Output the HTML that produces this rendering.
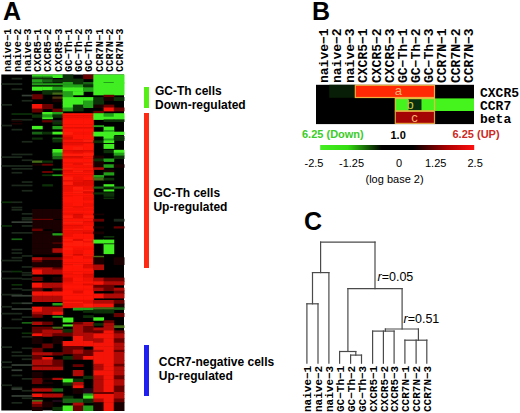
<!DOCTYPE html>
<html><head><meta charset="utf-8">
<style>
html,body{margin:0;padding:0;background:#fff;}
body{width:520px;height:413px;position:relative;overflow:hidden;font-family:"Liberation Sans",sans-serif;color:#000;}
.abs{position:absolute;white-space:nowrap;}
.vl{position:absolute;white-space:nowrap;transform:rotate(-90deg);transform-origin:0 0;line-height:1;font-family:"Liberation Mono",monospace;font-weight:bold;}
.big{position:absolute;font-weight:bold;font-size:25px;line-height:1;}
.lab{position:absolute;font-weight:bold;font-size:12px;line-height:14px;white-space:nowrap;}
.bar{position:absolute;width:5px;}
.rl{position:absolute;font-family:"Liberation Mono",monospace;font-weight:bold;font-size:13px;line-height:1;}
.tick{position:absolute;font-size:11px;line-height:1;white-space:nowrap;}
</style></head><body>
<div class="big" style="left:3px;top:-1px">A</div>
<div class="big" style="left:312px;top:-1px">B</div>
<div class="big" style="left:304px;top:208.5px">C</div>

<div class="vl la" style="left:2.50px;top:71.60px;font-size:10.35px">naive&#8722;1</div>
<div class="vl la" style="left:12.72px;top:71.60px;font-size:10.35px">naive&#8722;2</div>
<div class="vl la" style="left:22.95px;top:71.60px;font-size:10.35px">naive&#8722;3</div>
<div class="vl la" style="left:33.17px;top:71.60px;font-size:10.35px">CXCR5&#8722;1</div>
<div class="vl la" style="left:43.40px;top:71.60px;font-size:10.35px">CXCR5&#8722;2</div>
<div class="vl la" style="left:53.62px;top:71.60px;font-size:10.35px">CXCR5&#8722;3</div>
<div class="vl la" style="left:63.85px;top:71.60px;font-size:10.35px">GC&#8722;Th&#8722;1</div>
<div class="vl la" style="left:74.08px;top:71.60px;font-size:10.35px">GC&#8722;Th&#8722;2</div>
<div class="vl la" style="left:84.30px;top:71.60px;font-size:10.35px">GC&#8722;Th&#8722;3</div>
<div class="vl la" style="left:94.52px;top:71.60px;font-size:10.35px">CCR7N&#8722;1</div>
<div class="vl la" style="left:104.75px;top:71.60px;font-size:10.35px">CCR7N&#8722;2</div>
<div class="vl la" style="left:114.97px;top:71.60px;font-size:10.35px">CCR7N&#8722;3</div>
<svg style="position:absolute;left:0;top:0;filter:blur(0.35px)" width="130" height="413" viewBox="0 0 130 413">
<rect x="1.3" y="74.5" width="122.7" height="336" fill="#000"/>
<rect x="31.97" y="74.50" width="10.72" height="1.70" fill="#40ee22"/>
<rect x="42.20" y="74.50" width="10.72" height="1.70" fill="#40ee22"/>
<rect x="52.42" y="74.50" width="10.72" height="1.70" fill="#40ee22"/>
<rect x="31.97" y="75.70" width="10.72" height="2.30" fill="#23a01a"/>
<rect x="42.20" y="75.70" width="10.72" height="2.30" fill="#23a01a"/>
<rect x="52.42" y="75.70" width="10.72" height="2.30" fill="#40ee22"/>
<rect x="31.97" y="77.50" width="10.72" height="2.20" fill="#0c3008"/>
<rect x="42.20" y="77.50" width="10.72" height="2.20" fill="#0c3008"/>
<rect x="31.97" y="79.20" width="10.72" height="3.30" fill="#23a01a"/>
<rect x="42.20" y="79.20" width="10.72" height="3.30" fill="#176414"/>
<rect x="52.42" y="79.20" width="10.72" height="3.30" fill="#0c3008"/>
<rect x="31.97" y="82.00" width="10.72" height="1.70" fill="#176414"/>
<rect x="31.97" y="83.20" width="10.72" height="2.30" fill="#23a01a"/>
<rect x="42.20" y="83.20" width="10.72" height="2.30" fill="#23a01a"/>
<rect x="52.42" y="83.20" width="10.72" height="2.30" fill="#23a01a"/>
<rect x="31.97" y="85.00" width="10.72" height="2.20" fill="#0c3008"/>
<rect x="42.20" y="85.00" width="10.72" height="2.20" fill="#0c3008"/>
<rect x="52.42" y="85.00" width="10.72" height="2.20" fill="#0c3008"/>
<rect x="31.97" y="86.70" width="10.72" height="4.00" fill="#40ee22"/>
<rect x="42.20" y="86.70" width="10.72" height="4.00" fill="#40ee22"/>
<rect x="52.42" y="86.70" width="10.72" height="4.00" fill="#23a01a"/>
<rect x="42.20" y="90.20" width="10.72" height="2.80" fill="#0c3008"/>
<rect x="52.42" y="90.20" width="10.72" height="2.80" fill="#0c3008"/>
<rect x="42.20" y="92.50" width="10.72" height="2.20" fill="#0c3008"/>
<rect x="52.42" y="92.50" width="10.72" height="2.20" fill="#456a18"/>
<rect x="31.97" y="94.20" width="10.72" height="2.80" fill="#680000"/>
<rect x="31.97" y="96.50" width="10.72" height="2.80" fill="#680000"/>
<rect x="52.42" y="96.50" width="10.72" height="2.80" fill="#4a3210"/>
<rect x="52.42" y="98.80" width="10.72" height="3.40" fill="#1a0000"/>
<rect x="31.97" y="104.00" width="10.72" height="5.10" fill="#f41408"/>
<rect x="42.20" y="104.00" width="10.72" height="5.10" fill="#680000"/>
<rect x="31.97" y="108.60" width="10.72" height="3.90" fill="#680000"/>
<rect x="52.42" y="108.60" width="10.72" height="3.90" fill="#680000"/>
<rect x="42.20" y="112.00" width="10.72" height="2.90" fill="#40ee22"/>
<rect x="52.42" y="112.00" width="10.72" height="2.90" fill="#23a01a"/>
<rect x="31.97" y="114.40" width="10.72" height="3.40" fill="#0c3008"/>
<rect x="42.20" y="114.40" width="10.72" height="3.40" fill="#23a01a"/>
<rect x="52.42" y="114.40" width="10.72" height="3.40" fill="#0c3008"/>
<rect x="42.20" y="117.30" width="10.72" height="2.20" fill="#40ee22"/>
<rect x="42.20" y="119.00" width="10.72" height="1.70" fill="#0c3008"/>
<rect x="42.20" y="120.20" width="10.72" height="2.20" fill="#680000"/>
<rect x="52.42" y="120.20" width="10.72" height="2.20" fill="#1c281c"/>
<rect x="52.42" y="121.90" width="10.72" height="2.80" fill="#0c3008"/>
<rect x="31.97" y="125.90" width="10.72" height="3.40" fill="#40ee22"/>
<rect x="52.42" y="125.90" width="10.72" height="3.40" fill="#23a01a"/>
<rect x="31.97" y="131.70" width="10.72" height="2.80" fill="#176414"/>
<rect x="42.20" y="131.70" width="10.72" height="2.80" fill="#0c3008"/>
<rect x="52.42" y="131.70" width="10.72" height="2.80" fill="#40ee22"/>
<rect x="31.97" y="137.50" width="10.72" height="2.20" fill="#0c3008"/>
<rect x="52.42" y="137.50" width="10.72" height="2.20" fill="#176414"/>
<rect x="52.42" y="139.20" width="10.72" height="3.30" fill="#0c3008"/>
<rect x="52.42" y="149.00" width="10.72" height="4.00" fill="#40ee22"/>
<rect x="52.42" y="152.50" width="10.72" height="1.60" fill="#23a01a"/>
<rect x="52.42" y="153.60" width="10.72" height="2.90" fill="#23a01a"/>
<rect x="52.42" y="156.00" width="10.72" height="3.30" fill="#176414"/>
<rect x="31.97" y="160.50" width="10.72" height="2.30" fill="#456a18"/>
<rect x="42.20" y="160.50" width="10.72" height="2.30" fill="#0c3008"/>
<rect x="31.97" y="163.70" width="10.72" height="2.00" fill="#1a0000"/>
<rect x="42.20" y="163.70" width="10.72" height="2.00" fill="#680000"/>
<rect x="52.42" y="168.60" width="10.72" height="1.70" fill="#176414"/>
<rect x="42.20" y="171.00" width="10.72" height="2.00" fill="#680000"/>
<rect x="42.20" y="174.40" width="10.72" height="1.70" fill="#0c3008"/>
<rect x="52.42" y="174.40" width="10.72" height="1.70" fill="#23a01a"/>
<rect x="42.20" y="184.20" width="10.72" height="2.30" fill="#0c3008"/>
<rect x="31.97" y="209.00" width="10.72" height="10.30" fill="#1a0000"/>
<rect x="42.20" y="209.00" width="10.72" height="10.30" fill="#1a0000"/>
<rect x="52.42" y="209.00" width="10.72" height="10.30" fill="#1a0000"/>
<rect x="31.97" y="218.80" width="10.72" height="1.70" fill="#680000"/>
<rect x="42.20" y="218.80" width="10.72" height="1.70" fill="#680000"/>
<rect x="31.97" y="220.00" width="10.72" height="9.10" fill="#1a0000"/>
<rect x="42.20" y="220.00" width="10.72" height="9.10" fill="#1a0000"/>
<rect x="52.42" y="220.00" width="10.72" height="9.10" fill="#1a0000"/>
<rect x="31.97" y="228.60" width="10.72" height="2.90" fill="#680000"/>
<rect x="52.42" y="228.60" width="10.72" height="2.90" fill="#1a0000"/>
<rect x="31.97" y="231.00" width="10.72" height="2.70" fill="#1a0000"/>
<rect x="42.20" y="231.00" width="10.72" height="2.70" fill="#1a0000"/>
<rect x="31.97" y="233.20" width="10.72" height="2.80" fill="#1a0000"/>
<rect x="42.20" y="233.20" width="10.72" height="2.80" fill="#1a0000"/>
<rect x="52.42" y="233.20" width="10.72" height="2.80" fill="#23a01a"/>
<rect x="31.97" y="235.50" width="10.72" height="7.50" fill="#1a0000"/>
<rect x="42.20" y="235.50" width="10.72" height="7.50" fill="#1a0000"/>
<rect x="52.42" y="235.50" width="10.72" height="7.50" fill="#1a0000"/>
<rect x="31.97" y="242.50" width="10.72" height="1.60" fill="#1a0000"/>
<rect x="42.20" y="242.50" width="10.72" height="1.60" fill="#1a0000"/>
<rect x="52.42" y="242.50" width="10.72" height="1.60" fill="#680000"/>
<rect x="31.97" y="243.60" width="10.72" height="5.10" fill="#1a0000"/>
<rect x="42.20" y="243.60" width="10.72" height="5.10" fill="#1a0000"/>
<rect x="52.42" y="243.60" width="10.72" height="5.10" fill="#1a0000"/>
<rect x="31.97" y="248.20" width="10.72" height="5.10" fill="#1a0000"/>
<rect x="42.20" y="248.20" width="10.72" height="5.10" fill="#1a0000"/>
<rect x="52.42" y="248.20" width="10.72" height="5.10" fill="#b00a06"/>
<rect x="31.97" y="252.80" width="10.72" height="1.70" fill="#1a0000"/>
<rect x="42.20" y="252.80" width="10.72" height="1.70" fill="#1a0000"/>
<rect x="52.42" y="252.80" width="10.72" height="1.70" fill="#1a0000"/>
<rect x="31.97" y="257.20" width="10.72" height="3.30" fill="#b00a06"/>
<rect x="42.20" y="257.20" width="10.72" height="3.30" fill="#680000"/>
<rect x="52.42" y="257.20" width="10.72" height="3.30" fill="#680000"/>
<rect x="31.97" y="260.00" width="10.72" height="2.80" fill="#680000"/>
<rect x="42.20" y="260.00" width="10.72" height="2.80" fill="#1a0000"/>
<rect x="52.42" y="260.00" width="10.72" height="2.80" fill="#1a0000"/>
<rect x="31.97" y="262.30" width="10.72" height="5.60" fill="#1a0000"/>
<rect x="42.20" y="262.30" width="10.72" height="5.60" fill="#1a0000"/>
<rect x="52.42" y="262.30" width="10.72" height="5.60" fill="#1a0000"/>
<rect x="31.97" y="267.40" width="10.72" height="2.60" fill="#b00a06"/>
<rect x="42.20" y="267.40" width="10.72" height="2.60" fill="#b00a06"/>
<rect x="52.42" y="267.40" width="10.72" height="2.60" fill="#680000"/>
<rect x="31.97" y="269.50" width="10.72" height="5.00" fill="#f41408"/>
<rect x="42.20" y="269.50" width="10.72" height="5.00" fill="#b00a06"/>
<rect x="52.42" y="269.50" width="10.72" height="5.00" fill="#b00a06"/>
<rect x="31.97" y="276.80" width="10.72" height="4.20" fill="#680000"/>
<rect x="52.42" y="276.80" width="10.72" height="4.20" fill="#1a0000"/>
<rect x="31.97" y="282.60" width="10.72" height="5.60" fill="#f41408"/>
<rect x="42.20" y="282.60" width="10.72" height="5.60" fill="#b00a06"/>
<rect x="52.42" y="282.60" width="10.72" height="5.60" fill="#b00a06"/>
<rect x="31.97" y="287.70" width="10.72" height="4.20" fill="#680000"/>
<rect x="52.42" y="287.70" width="10.72" height="4.20" fill="#680000"/>
<rect x="31.97" y="291.40" width="10.72" height="4.80" fill="#f41408"/>
<rect x="42.20" y="291.40" width="10.72" height="4.80" fill="#f41408"/>
<rect x="52.42" y="291.40" width="10.72" height="4.80" fill="#f41408"/>
<rect x="31.97" y="295.70" width="10.72" height="6.30" fill="#b00a06"/>
<rect x="42.20" y="295.70" width="10.72" height="6.30" fill="#b00a06"/>
<rect x="52.42" y="295.70" width="10.72" height="6.30" fill="#b00a06"/>
<rect x="52.42" y="303.00" width="10.72" height="2.50" fill="#23a01a"/>
<rect x="31.97" y="306.60" width="10.72" height="5.60" fill="#f41408"/>
<rect x="42.20" y="306.60" width="10.72" height="5.60" fill="#b00a06"/>
<rect x="52.42" y="306.60" width="10.72" height="5.60" fill="#b00a06"/>
<rect x="31.97" y="311.70" width="10.72" height="3.20" fill="#b00a06"/>
<rect x="42.20" y="311.70" width="10.72" height="3.20" fill="#b00a06"/>
<rect x="52.42" y="311.70" width="10.72" height="3.20" fill="#f41408"/>
<rect x="31.97" y="314.40" width="10.72" height="1.90" fill="#680000"/>
<rect x="31.97" y="315.80" width="10.72" height="2.00" fill="#680000"/>
<rect x="52.42" y="315.80" width="10.72" height="2.00" fill="#23a01a"/>
<rect x="31.97" y="321.60" width="10.72" height="3.40" fill="#b00a06"/>
<rect x="42.20" y="321.60" width="10.72" height="3.40" fill="#680000"/>
<rect x="31.97" y="326.70" width="10.72" height="2.00" fill="#680000"/>
<rect x="42.20" y="326.70" width="10.72" height="2.00" fill="#680000"/>
<rect x="52.42" y="326.70" width="10.72" height="2.00" fill="#456a18"/>
<rect x="31.97" y="328.20" width="10.72" height="1.90" fill="#680000"/>
<rect x="42.20" y="328.20" width="10.72" height="1.90" fill="#680000"/>
<rect x="31.97" y="329.60" width="10.72" height="4.20" fill="#680000"/>
<rect x="42.20" y="329.60" width="10.72" height="4.20" fill="#b00a06"/>
<rect x="52.42" y="329.60" width="10.72" height="4.20" fill="#b00a06"/>
<rect x="31.97" y="333.30" width="10.72" height="3.40" fill="#f41408"/>
<rect x="42.20" y="333.30" width="10.72" height="3.40" fill="#b00a06"/>
<rect x="52.42" y="333.30" width="10.72" height="3.40" fill="#680000"/>
<rect x="31.97" y="336.20" width="10.72" height="7.80" fill="#1a0000"/>
<rect x="52.42" y="336.20" width="10.72" height="7.80" fill="#1a0000"/>
<rect x="42.20" y="343.50" width="10.72" height="4.80" fill="#680000"/>
<rect x="31.97" y="347.80" width="10.72" height="4.90" fill="#680000"/>
<rect x="31.97" y="352.20" width="10.72" height="3.30" fill="#b00a06"/>
<rect x="42.20" y="352.20" width="10.72" height="3.30" fill="#b00a06"/>
<rect x="52.42" y="352.20" width="10.72" height="3.30" fill="#680000"/>
<rect x="31.97" y="355.00" width="10.72" height="2.50" fill="#680000"/>
<rect x="31.97" y="357.00" width="10.72" height="3.00" fill="#680000"/>
<rect x="42.20" y="357.00" width="10.72" height="3.00" fill="#f41408"/>
<rect x="31.97" y="359.50" width="10.72" height="4.80" fill="#b00a06"/>
<rect x="42.20" y="359.50" width="10.72" height="4.80" fill="#b00a06"/>
<rect x="52.42" y="359.50" width="10.72" height="4.80" fill="#680000"/>
<rect x="31.97" y="363.80" width="10.72" height="1.70" fill="#b00a06"/>
<rect x="42.20" y="363.80" width="10.72" height="1.70" fill="#b00a06"/>
<rect x="52.42" y="363.80" width="10.72" height="1.70" fill="#680000"/>
<rect x="31.97" y="365.00" width="10.72" height="2.20" fill="#680000"/>
<rect x="42.20" y="365.00" width="10.72" height="2.20" fill="#680000"/>
<rect x="52.42" y="365.00" width="10.72" height="2.20" fill="#680000"/>
<rect x="31.97" y="366.70" width="10.72" height="3.50" fill="#b00a06"/>
<rect x="42.20" y="366.70" width="10.72" height="3.50" fill="#b00a06"/>
<rect x="52.42" y="366.70" width="10.72" height="3.50" fill="#b00a06"/>
<rect x="31.97" y="372.00" width="10.72" height="5.10" fill="#1a0000"/>
<rect x="31.97" y="377.80" width="10.72" height="2.20" fill="#680000"/>
<rect x="42.20" y="377.80" width="10.72" height="2.20" fill="#1a0000"/>
<rect x="52.42" y="377.80" width="10.72" height="2.20" fill="#b00a06"/>
<rect x="31.97" y="379.50" width="10.72" height="2.90" fill="#680000"/>
<rect x="31.97" y="381.90" width="10.72" height="2.20" fill="#680000"/>
<rect x="42.20" y="381.90" width="10.72" height="2.20" fill="#1a0000"/>
<rect x="31.97" y="386.50" width="10.72" height="2.30" fill="#1a0000"/>
<rect x="42.20" y="386.50" width="10.72" height="2.30" fill="#1a0000"/>
<rect x="31.97" y="388.30" width="10.72" height="3.40" fill="#b00a06"/>
<rect x="42.20" y="388.30" width="10.72" height="3.40" fill="#b00a06"/>
<rect x="52.42" y="388.30" width="10.72" height="3.40" fill="#176414"/>
<rect x="31.97" y="393.50" width="10.72" height="4.00" fill="#f41408"/>
<rect x="42.20" y="393.50" width="10.72" height="4.00" fill="#b00a06"/>
<rect x="52.42" y="393.50" width="10.72" height="4.00" fill="#b00a06"/>
<rect x="31.97" y="397.00" width="10.72" height="3.40" fill="#1a0000"/>
<rect x="31.97" y="399.90" width="10.72" height="2.20" fill="#456a18"/>
<rect x="52.42" y="399.90" width="10.72" height="2.20" fill="#1e0818"/>
<rect x="31.97" y="401.60" width="10.72" height="2.90" fill="#b00a06"/>
<rect x="42.20" y="401.60" width="10.72" height="2.90" fill="#1a0000"/>
<rect x="31.97" y="404.00" width="10.72" height="3.40" fill="#680000"/>
<rect x="42.20" y="404.00" width="10.72" height="3.40" fill="#1a0000"/>
<rect x="31.97" y="406.90" width="10.72" height="4.10" fill="#1a0000"/>
<rect x="52.42" y="406.90" width="10.72" height="4.10" fill="#0c3008"/>
<rect x="62.65" y="74.50" width="10.72" height="4.60" fill="#0c3008"/>
<rect x="83.10" y="74.50" width="10.72" height="4.60" fill="#680000"/>
<rect x="62.65" y="78.60" width="10.72" height="3.90" fill="#0c3008"/>
<rect x="72.88" y="78.60" width="10.72" height="3.90" fill="#0c3008"/>
<rect x="62.65" y="82.00" width="10.72" height="2.90" fill="#23a01a"/>
<rect x="72.88" y="82.00" width="10.72" height="2.90" fill="#0c3008"/>
<rect x="83.10" y="82.00" width="10.72" height="2.90" fill="#176414"/>
<rect x="62.65" y="84.40" width="10.72" height="3.40" fill="#23a01a"/>
<rect x="72.88" y="84.40" width="10.72" height="3.40" fill="#23a01a"/>
<rect x="83.10" y="84.40" width="10.72" height="3.40" fill="#0c3008"/>
<rect x="62.65" y="87.30" width="10.72" height="4.50" fill="#40ee22"/>
<rect x="72.88" y="87.30" width="10.72" height="4.50" fill="#40ee22"/>
<rect x="83.10" y="87.30" width="10.72" height="4.50" fill="#23a01a"/>
<rect x="62.65" y="91.30" width="10.72" height="4.00" fill="#23a01a"/>
<rect x="72.88" y="91.30" width="10.72" height="4.00" fill="#40ee22"/>
<rect x="62.65" y="94.80" width="10.72" height="2.80" fill="#23a01a"/>
<rect x="62.65" y="97.10" width="10.72" height="3.90" fill="#40ee22"/>
<rect x="72.88" y="97.10" width="10.72" height="3.90" fill="#40ee22"/>
<rect x="83.10" y="97.10" width="10.72" height="3.90" fill="#40ee22"/>
<rect x="62.65" y="100.50" width="10.72" height="4.60" fill="#40ee22"/>
<rect x="72.88" y="100.50" width="10.72" height="4.60" fill="#40ee22"/>
<rect x="83.10" y="100.50" width="10.72" height="4.60" fill="#23a01a"/>
<rect x="62.65" y="104.60" width="10.72" height="3.40" fill="#40ee22"/>
<rect x="72.88" y="104.60" width="10.72" height="3.40" fill="#0c3008"/>
<rect x="83.10" y="104.60" width="10.72" height="3.40" fill="#23a01a"/>
<rect x="62.65" y="107.50" width="10.72" height="3.90" fill="#23a01a"/>
<rect x="72.88" y="107.50" width="10.72" height="3.90" fill="#0c3008"/>
<rect x="62.65" y="113.20" width="10.72" height="2.50" fill="#ff1406"/>
<rect x="72.88" y="113.20" width="10.72" height="2.50" fill="#ff1406"/>
<rect x="83.10" y="113.20" width="10.72" height="2.50" fill="#ff1406"/>
<rect x="62.65" y="115.20" width="10.72" height="2.50" fill="#f01004"/>
<rect x="72.88" y="115.20" width="10.72" height="2.50" fill="#f01004"/>
<rect x="83.10" y="115.20" width="10.72" height="2.50" fill="#f01004"/>
<rect x="62.65" y="117.20" width="10.72" height="2.90" fill="#f81205"/>
<rect x="72.88" y="117.20" width="10.72" height="2.90" fill="#f81205"/>
<rect x="83.10" y="117.20" width="10.72" height="2.90" fill="#f81205"/>
<rect x="62.65" y="119.60" width="10.72" height="3.50" fill="#ff1406"/>
<rect x="72.88" y="119.60" width="10.72" height="3.50" fill="#ff1406"/>
<rect x="83.10" y="119.60" width="10.72" height="3.50" fill="#ff1406"/>
<rect x="62.65" y="122.60" width="10.72" height="2.10" fill="#ff1406"/>
<rect x="72.88" y="122.60" width="10.72" height="2.10" fill="#ff1406"/>
<rect x="83.10" y="122.60" width="10.72" height="2.10" fill="#ff1406"/>
<rect x="62.65" y="124.20" width="10.72" height="3.50" fill="#ff1406"/>
<rect x="72.88" y="124.20" width="10.72" height="3.50" fill="#ff1406"/>
<rect x="83.10" y="124.20" width="10.72" height="3.50" fill="#ff1406"/>
<rect x="62.65" y="127.20" width="10.72" height="1.70" fill="#f01004"/>
<rect x="72.88" y="127.20" width="10.72" height="1.70" fill="#f01004"/>
<rect x="83.10" y="127.20" width="10.72" height="1.70" fill="#f01004"/>
<rect x="62.65" y="128.40" width="10.72" height="4.00" fill="#ff1406"/>
<rect x="72.88" y="128.40" width="10.72" height="4.00" fill="#ff1406"/>
<rect x="83.10" y="128.40" width="10.72" height="4.00" fill="#ff1406"/>
<rect x="62.65" y="131.90" width="10.72" height="3.50" fill="#ff1c0a"/>
<rect x="72.88" y="131.90" width="10.72" height="3.50" fill="#f81205"/>
<rect x="83.10" y="131.90" width="10.72" height="3.50" fill="#f81205"/>
<rect x="62.65" y="134.90" width="10.72" height="2.50" fill="#f01004"/>
<rect x="72.88" y="134.90" width="10.72" height="2.50" fill="#ff1406"/>
<rect x="83.10" y="134.90" width="10.72" height="2.50" fill="#ff1406"/>
<rect x="62.65" y="136.90" width="10.72" height="2.90" fill="#e00c02"/>
<rect x="72.88" y="136.90" width="10.72" height="2.90" fill="#ff1406"/>
<rect x="83.10" y="136.90" width="10.72" height="2.90" fill="#ff1406"/>
<rect x="62.65" y="139.30" width="10.72" height="3.50" fill="#f81205"/>
<rect x="72.88" y="139.30" width="10.72" height="3.50" fill="#f81205"/>
<rect x="83.10" y="139.30" width="10.72" height="3.50" fill="#ff1c0a"/>
<rect x="62.65" y="142.30" width="10.72" height="1.70" fill="#e80e04"/>
<rect x="72.88" y="142.30" width="10.72" height="1.70" fill="#e80e04"/>
<rect x="83.10" y="142.30" width="10.72" height="1.70" fill="#e00c02"/>
<rect x="62.65" y="143.50" width="10.72" height="2.50" fill="#e80e04"/>
<rect x="72.88" y="143.50" width="10.72" height="2.50" fill="#e80e04"/>
<rect x="83.10" y="143.50" width="10.72" height="2.50" fill="#ff1406"/>
<rect x="62.65" y="145.50" width="10.72" height="1.70" fill="#ff1406"/>
<rect x="72.88" y="145.50" width="10.72" height="1.70" fill="#ff1406"/>
<rect x="83.10" y="145.50" width="10.72" height="1.70" fill="#ff1406"/>
<rect x="62.65" y="146.70" width="10.72" height="4.00" fill="#ff1406"/>
<rect x="72.88" y="146.70" width="10.72" height="4.00" fill="#ff1c0a"/>
<rect x="83.10" y="146.70" width="10.72" height="4.00" fill="#ff1406"/>
<rect x="62.65" y="150.20" width="10.72" height="2.90" fill="#e80e04"/>
<rect x="72.88" y="150.20" width="10.72" height="2.90" fill="#e00c02"/>
<rect x="83.10" y="150.20" width="10.72" height="2.90" fill="#e80e04"/>
<rect x="62.65" y="152.60" width="10.72" height="1.70" fill="#f81205"/>
<rect x="72.88" y="152.60" width="10.72" height="1.70" fill="#f01004"/>
<rect x="83.10" y="152.60" width="10.72" height="1.70" fill="#ff1c0a"/>
<rect x="62.65" y="153.80" width="10.72" height="2.90" fill="#ff1c0a"/>
<rect x="72.88" y="153.80" width="10.72" height="2.90" fill="#ff1c0a"/>
<rect x="83.10" y="153.80" width="10.72" height="2.90" fill="#ff1c0a"/>
<rect x="62.65" y="156.20" width="10.72" height="2.50" fill="#e00c02"/>
<rect x="72.88" y="156.20" width="10.72" height="2.50" fill="#e00c02"/>
<rect x="83.10" y="156.20" width="10.72" height="2.50" fill="#ff1406"/>
<rect x="62.65" y="158.20" width="10.72" height="2.90" fill="#ff1406"/>
<rect x="72.88" y="158.20" width="10.72" height="2.90" fill="#ff1406"/>
<rect x="83.10" y="158.20" width="10.72" height="2.90" fill="#ff1406"/>
<rect x="62.65" y="160.60" width="10.72" height="2.10" fill="#ff1406"/>
<rect x="72.88" y="160.60" width="10.72" height="2.10" fill="#ff1406"/>
<rect x="83.10" y="160.60" width="10.72" height="2.10" fill="#ff1406"/>
<rect x="62.65" y="162.20" width="10.72" height="1.70" fill="#ff1406"/>
<rect x="72.88" y="162.20" width="10.72" height="1.70" fill="#ff1406"/>
<rect x="83.10" y="162.20" width="10.72" height="1.70" fill="#ff1406"/>
<rect x="62.65" y="163.40" width="10.72" height="2.10" fill="#ff1406"/>
<rect x="72.88" y="163.40" width="10.72" height="2.10" fill="#e80e04"/>
<rect x="83.10" y="163.40" width="10.72" height="2.10" fill="#ff1c0a"/>
<rect x="62.65" y="165.00" width="10.72" height="2.90" fill="#f81205"/>
<rect x="72.88" y="165.00" width="10.72" height="2.90" fill="#f81205"/>
<rect x="83.10" y="165.00" width="10.72" height="2.90" fill="#f81205"/>
<rect x="62.65" y="167.40" width="10.72" height="2.10" fill="#ff1c0a"/>
<rect x="72.88" y="167.40" width="10.72" height="2.10" fill="#ff1406"/>
<rect x="83.10" y="167.40" width="10.72" height="2.10" fill="#ff1406"/>
<rect x="62.65" y="169.00" width="10.72" height="1.70" fill="#ff1406"/>
<rect x="72.88" y="169.00" width="10.72" height="1.70" fill="#ff1406"/>
<rect x="83.10" y="169.00" width="10.72" height="1.70" fill="#ff1406"/>
<rect x="62.65" y="170.20" width="10.72" height="2.50" fill="#f01004"/>
<rect x="72.88" y="170.20" width="10.72" height="2.50" fill="#ff1c0a"/>
<rect x="83.10" y="170.20" width="10.72" height="2.50" fill="#f01004"/>
<rect x="62.65" y="172.20" width="10.72" height="2.50" fill="#ff1406"/>
<rect x="72.88" y="172.20" width="10.72" height="2.50" fill="#ff1406"/>
<rect x="83.10" y="172.20" width="10.72" height="2.50" fill="#ff1406"/>
<rect x="62.65" y="174.20" width="10.72" height="2.90" fill="#f81205"/>
<rect x="72.88" y="174.20" width="10.72" height="2.90" fill="#f81205"/>
<rect x="83.10" y="174.20" width="10.72" height="2.90" fill="#f81205"/>
<rect x="62.65" y="176.60" width="10.72" height="4.00" fill="#ff1c0a"/>
<rect x="72.88" y="176.60" width="10.72" height="4.00" fill="#f01004"/>
<rect x="83.10" y="176.60" width="10.72" height="4.00" fill="#ff1406"/>
<rect x="62.65" y="180.10" width="10.72" height="2.10" fill="#f01004"/>
<rect x="72.88" y="180.10" width="10.72" height="2.10" fill="#f01004"/>
<rect x="83.10" y="180.10" width="10.72" height="2.10" fill="#e00c02"/>
<rect x="62.65" y="181.70" width="10.72" height="4.00" fill="#ff1c0a"/>
<rect x="72.88" y="181.70" width="10.72" height="4.00" fill="#e00c02"/>
<rect x="83.10" y="181.70" width="10.72" height="4.00" fill="#e00c02"/>
<rect x="62.65" y="185.20" width="10.72" height="2.10" fill="#f01004"/>
<rect x="72.88" y="185.20" width="10.72" height="2.10" fill="#f01004"/>
<rect x="83.10" y="185.20" width="10.72" height="2.10" fill="#f01004"/>
<rect x="62.65" y="186.80" width="10.72" height="3.50" fill="#f01004"/>
<rect x="72.88" y="186.80" width="10.72" height="3.50" fill="#ff1c0a"/>
<rect x="83.10" y="186.80" width="10.72" height="3.50" fill="#f01004"/>
<rect x="62.65" y="189.80" width="10.72" height="2.10" fill="#f01004"/>
<rect x="72.88" y="189.80" width="10.72" height="2.10" fill="#ff1406"/>
<rect x="83.10" y="189.80" width="10.72" height="2.10" fill="#ff1c0a"/>
<rect x="62.65" y="191.40" width="10.72" height="2.50" fill="#ff1406"/>
<rect x="72.88" y="191.40" width="10.72" height="2.50" fill="#ff1c0a"/>
<rect x="83.10" y="191.40" width="10.72" height="2.50" fill="#e00c02"/>
<rect x="62.65" y="193.40" width="10.72" height="2.50" fill="#ff1406"/>
<rect x="72.88" y="193.40" width="10.72" height="2.50" fill="#ff1406"/>
<rect x="83.10" y="193.40" width="10.72" height="2.50" fill="#ff1406"/>
<rect x="62.65" y="195.40" width="10.72" height="2.10" fill="#f81205"/>
<rect x="72.88" y="195.40" width="10.72" height="2.10" fill="#ff1406"/>
<rect x="83.10" y="195.40" width="10.72" height="2.10" fill="#f81205"/>
<rect x="62.65" y="197.00" width="10.72" height="4.00" fill="#ff1406"/>
<rect x="72.88" y="197.00" width="10.72" height="4.00" fill="#ff1406"/>
<rect x="83.10" y="197.00" width="10.72" height="4.00" fill="#f01004"/>
<rect x="62.65" y="200.50" width="10.72" height="2.90" fill="#ff1406"/>
<rect x="72.88" y="200.50" width="10.72" height="2.90" fill="#ff1406"/>
<rect x="83.10" y="200.50" width="10.72" height="2.90" fill="#ff1406"/>
<rect x="62.65" y="202.90" width="10.72" height="4.00" fill="#f81205"/>
<rect x="72.88" y="202.90" width="10.72" height="4.00" fill="#ff1406"/>
<rect x="83.10" y="202.90" width="10.72" height="4.00" fill="#f01004"/>
<rect x="62.65" y="206.40" width="10.72" height="2.10" fill="#ff1406"/>
<rect x="72.88" y="206.40" width="10.72" height="2.10" fill="#f01004"/>
<rect x="83.10" y="206.40" width="10.72" height="2.10" fill="#ff1406"/>
<rect x="62.65" y="208.00" width="10.72" height="3.50" fill="#f81205"/>
<rect x="72.88" y="208.00" width="10.72" height="3.50" fill="#f81205"/>
<rect x="83.10" y="208.00" width="10.72" height="3.50" fill="#f81205"/>
<rect x="62.65" y="211.00" width="10.72" height="2.10" fill="#ff1406"/>
<rect x="72.88" y="211.00" width="10.72" height="2.10" fill="#ff1406"/>
<rect x="83.10" y="211.00" width="10.72" height="2.10" fill="#ff1406"/>
<rect x="62.65" y="212.60" width="10.72" height="2.10" fill="#f01004"/>
<rect x="72.88" y="212.60" width="10.72" height="2.10" fill="#f01004"/>
<rect x="83.10" y="212.60" width="10.72" height="2.10" fill="#f81205"/>
<rect x="62.65" y="214.20" width="10.72" height="2.10" fill="#ff1406"/>
<rect x="72.88" y="214.20" width="10.72" height="2.10" fill="#e00c02"/>
<rect x="83.10" y="214.20" width="10.72" height="2.10" fill="#ff1406"/>
<rect x="62.65" y="215.80" width="10.72" height="2.90" fill="#ff1c0a"/>
<rect x="72.88" y="215.80" width="10.72" height="2.90" fill="#e00c02"/>
<rect x="83.10" y="215.80" width="10.72" height="2.90" fill="#ff1c0a"/>
<rect x="62.65" y="218.20" width="10.72" height="3.50" fill="#ff1406"/>
<rect x="72.88" y="218.20" width="10.72" height="3.50" fill="#ff1406"/>
<rect x="83.10" y="218.20" width="10.72" height="3.50" fill="#ff1406"/>
<rect x="62.65" y="221.20" width="10.72" height="2.90" fill="#ff1c0a"/>
<rect x="72.88" y="221.20" width="10.72" height="2.90" fill="#ff1c0a"/>
<rect x="83.10" y="221.20" width="10.72" height="2.90" fill="#f01004"/>
<rect x="62.65" y="223.60" width="10.72" height="2.10" fill="#f81205"/>
<rect x="72.88" y="223.60" width="10.72" height="2.10" fill="#f81205"/>
<rect x="83.10" y="223.60" width="10.72" height="2.10" fill="#f81205"/>
<rect x="62.65" y="225.20" width="10.72" height="4.00" fill="#f01004"/>
<rect x="72.88" y="225.20" width="10.72" height="4.00" fill="#f01004"/>
<rect x="83.10" y="225.20" width="10.72" height="4.00" fill="#ff1406"/>
<rect x="62.65" y="228.70" width="10.72" height="2.10" fill="#ff1406"/>
<rect x="72.88" y="228.70" width="10.72" height="2.10" fill="#ff1c0a"/>
<rect x="83.10" y="228.70" width="10.72" height="2.10" fill="#ff1406"/>
<rect x="62.65" y="230.30" width="10.72" height="1.70" fill="#f81205"/>
<rect x="72.88" y="230.30" width="10.72" height="1.70" fill="#f01004"/>
<rect x="83.10" y="230.30" width="10.72" height="1.70" fill="#f81205"/>
<rect x="62.65" y="231.50" width="10.72" height="2.90" fill="#f01004"/>
<rect x="72.88" y="231.50" width="10.72" height="2.90" fill="#f01004"/>
<rect x="83.10" y="231.50" width="10.72" height="2.90" fill="#e00c02"/>
<rect x="62.65" y="233.90" width="10.72" height="3.50" fill="#f01004"/>
<rect x="72.88" y="233.90" width="10.72" height="3.50" fill="#ff1406"/>
<rect x="83.10" y="233.90" width="10.72" height="3.50" fill="#ff1406"/>
<rect x="62.65" y="236.90" width="10.72" height="2.50" fill="#ff1406"/>
<rect x="72.88" y="236.90" width="10.72" height="2.50" fill="#ff1406"/>
<rect x="83.10" y="236.90" width="10.72" height="2.50" fill="#ff1406"/>
<rect x="62.65" y="238.90" width="10.72" height="2.50" fill="#ff1c0a"/>
<rect x="72.88" y="238.90" width="10.72" height="2.50" fill="#e00c02"/>
<rect x="83.10" y="238.90" width="10.72" height="2.50" fill="#ff1c0a"/>
<rect x="62.65" y="240.90" width="10.72" height="2.10" fill="#f81205"/>
<rect x="72.88" y="240.90" width="10.72" height="2.10" fill="#ff1c0a"/>
<rect x="83.10" y="240.90" width="10.72" height="2.10" fill="#f01004"/>
<rect x="62.65" y="242.50" width="10.72" height="4.00" fill="#ff1c0a"/>
<rect x="72.88" y="242.50" width="10.72" height="4.00" fill="#ff1c0a"/>
<rect x="83.10" y="242.50" width="10.72" height="4.00" fill="#ff1c0a"/>
<rect x="62.65" y="246.00" width="10.72" height="2.10" fill="#ff1406"/>
<rect x="72.88" y="246.00" width="10.72" height="2.10" fill="#ff1406"/>
<rect x="83.10" y="246.00" width="10.72" height="2.10" fill="#ff1406"/>
<rect x="62.65" y="247.60" width="10.72" height="2.90" fill="#ff1c0a"/>
<rect x="72.88" y="247.60" width="10.72" height="2.90" fill="#f81205"/>
<rect x="83.10" y="247.60" width="10.72" height="2.90" fill="#f81205"/>
<rect x="62.65" y="250.00" width="10.72" height="3.50" fill="#ff1406"/>
<rect x="72.88" y="250.00" width="10.72" height="3.50" fill="#f01004"/>
<rect x="83.10" y="250.00" width="10.72" height="3.50" fill="#ff1406"/>
<rect x="62.65" y="253.00" width="10.72" height="1.70" fill="#ff1406"/>
<rect x="72.88" y="253.00" width="10.72" height="1.70" fill="#f01004"/>
<rect x="83.10" y="253.00" width="10.72" height="1.70" fill="#ff1406"/>
<rect x="62.65" y="254.20" width="10.72" height="2.10" fill="#ff1c0a"/>
<rect x="72.88" y="254.20" width="10.72" height="2.10" fill="#e00c02"/>
<rect x="83.10" y="254.20" width="10.72" height="2.10" fill="#ff1c0a"/>
<rect x="62.65" y="255.80" width="10.72" height="3.50" fill="#f01004"/>
<rect x="72.88" y="255.80" width="10.72" height="3.50" fill="#ff1406"/>
<rect x="83.10" y="255.80" width="10.72" height="3.50" fill="#f01004"/>
<rect x="62.65" y="258.80" width="10.72" height="4.00" fill="#ff1406"/>
<rect x="72.88" y="258.80" width="10.72" height="4.00" fill="#ff1406"/>
<rect x="83.10" y="258.80" width="10.72" height="4.00" fill="#ff1406"/>
<rect x="62.65" y="262.30" width="10.72" height="2.50" fill="#ff1406"/>
<rect x="72.88" y="262.30" width="10.72" height="2.50" fill="#ff1406"/>
<rect x="83.10" y="262.30" width="10.72" height="2.50" fill="#ff1406"/>
<rect x="62.65" y="264.30" width="10.72" height="1.70" fill="#f81205"/>
<rect x="72.88" y="264.30" width="10.72" height="1.70" fill="#ff1c0a"/>
<rect x="83.10" y="264.30" width="10.72" height="1.70" fill="#e00c02"/>
<rect x="62.65" y="265.50" width="10.72" height="3.50" fill="#ff1406"/>
<rect x="72.88" y="265.50" width="10.72" height="3.50" fill="#ff1406"/>
<rect x="83.10" y="265.50" width="10.72" height="3.50" fill="#e00c02"/>
<rect x="62.65" y="268.50" width="10.72" height="1.70" fill="#ff1406"/>
<rect x="72.88" y="268.50" width="10.72" height="1.70" fill="#ff1406"/>
<rect x="83.10" y="268.50" width="10.72" height="1.70" fill="#ff1406"/>
<rect x="62.65" y="269.70" width="10.72" height="2.10" fill="#ff1406"/>
<rect x="72.88" y="269.70" width="10.72" height="2.10" fill="#ff1406"/>
<rect x="83.10" y="269.70" width="10.72" height="2.10" fill="#ff1406"/>
<rect x="62.65" y="271.30" width="10.72" height="1.70" fill="#ff1406"/>
<rect x="72.88" y="271.30" width="10.72" height="1.70" fill="#ff1406"/>
<rect x="83.10" y="271.30" width="10.72" height="1.70" fill="#ff1406"/>
<rect x="62.65" y="272.50" width="10.72" height="2.10" fill="#f01004"/>
<rect x="72.88" y="272.50" width="10.72" height="2.10" fill="#ff1406"/>
<rect x="83.10" y="272.50" width="10.72" height="2.10" fill="#f01004"/>
<rect x="62.65" y="274.10" width="10.72" height="4.00" fill="#f81205"/>
<rect x="72.88" y="274.10" width="10.72" height="4.00" fill="#f81205"/>
<rect x="83.10" y="274.10" width="10.72" height="4.00" fill="#e00c02"/>
<rect x="62.65" y="277.60" width="10.72" height="4.00" fill="#e00c02"/>
<rect x="72.88" y="277.60" width="10.72" height="4.00" fill="#ff1406"/>
<rect x="83.10" y="277.60" width="10.72" height="4.00" fill="#f01004"/>
<rect x="62.65" y="281.10" width="10.72" height="2.90" fill="#f01004"/>
<rect x="72.88" y="281.10" width="10.72" height="2.90" fill="#ff1406"/>
<rect x="83.10" y="281.10" width="10.72" height="2.90" fill="#ff1406"/>
<rect x="62.65" y="283.50" width="10.72" height="2.50" fill="#f81205"/>
<rect x="72.88" y="283.50" width="10.72" height="2.50" fill="#f81205"/>
<rect x="83.10" y="283.50" width="10.72" height="2.50" fill="#e00c02"/>
<rect x="62.65" y="285.50" width="10.72" height="3.50" fill="#ff1406"/>
<rect x="72.88" y="285.50" width="10.72" height="3.50" fill="#ff1406"/>
<rect x="83.10" y="285.50" width="10.72" height="3.50" fill="#ff1406"/>
<rect x="62.65" y="288.50" width="10.72" height="2.50" fill="#f81205"/>
<rect x="72.88" y="288.50" width="10.72" height="2.50" fill="#f81205"/>
<rect x="83.10" y="288.50" width="10.72" height="2.50" fill="#f81205"/>
<rect x="62.65" y="290.50" width="10.72" height="3.50" fill="#ff1406"/>
<rect x="72.88" y="290.50" width="10.72" height="3.50" fill="#e00c02"/>
<rect x="83.10" y="290.50" width="10.72" height="3.50" fill="#ff1406"/>
<rect x="62.65" y="293.50" width="10.72" height="2.10" fill="#ff1406"/>
<rect x="72.88" y="293.50" width="10.72" height="2.10" fill="#ff1406"/>
<rect x="83.10" y="293.50" width="10.72" height="2.10" fill="#ff1406"/>
<rect x="62.65" y="295.10" width="10.72" height="4.00" fill="#ff1406"/>
<rect x="72.88" y="295.10" width="10.72" height="4.00" fill="#ff1406"/>
<rect x="83.10" y="295.10" width="10.72" height="4.00" fill="#ff1406"/>
<rect x="62.65" y="298.60" width="10.72" height="1.70" fill="#ff1406"/>
<rect x="72.88" y="298.60" width="10.72" height="1.70" fill="#ff1406"/>
<rect x="83.10" y="298.60" width="10.72" height="1.70" fill="#ff1406"/>
<rect x="62.65" y="299.80" width="10.72" height="2.50" fill="#e80e04"/>
<rect x="72.88" y="299.80" width="10.72" height="2.50" fill="#e80e04"/>
<rect x="83.10" y="299.80" width="10.72" height="2.50" fill="#e80e04"/>
<rect x="62.65" y="301.80" width="10.72" height="2.10" fill="#ff1c0a"/>
<rect x="72.88" y="301.80" width="10.72" height="2.10" fill="#ff1c0a"/>
<rect x="83.10" y="301.80" width="10.72" height="2.10" fill="#e80e04"/>
<rect x="62.65" y="303.40" width="10.72" height="4.00" fill="#f01004"/>
<rect x="72.88" y="303.40" width="10.72" height="4.00" fill="#f01004"/>
<rect x="83.10" y="303.40" width="10.72" height="4.00" fill="#ff1c0a"/>
<rect x="62.65" y="306.90" width="10.72" height="1.30" fill="#f01004"/>
<rect x="72.88" y="306.90" width="10.72" height="1.30" fill="#ff1406"/>
<rect x="83.10" y="306.90" width="10.72" height="1.30" fill="#f01004"/>
<rect x="72.88" y="307.70" width="10.72" height="2.80" fill="#23a01a"/>
<rect x="83.10" y="307.70" width="10.72" height="2.80" fill="#23a01a"/>
<rect x="83.10" y="310.00" width="10.72" height="2.80" fill="#0c3008"/>
<rect x="83.10" y="315.20" width="10.72" height="2.80" fill="#0c3008"/>
<rect x="62.65" y="317.50" width="10.72" height="5.00" fill="#40ee22"/>
<rect x="72.88" y="322.00" width="10.72" height="2.90" fill="#680000"/>
<rect x="83.10" y="322.00" width="10.72" height="2.90" fill="#b00a06"/>
<rect x="62.65" y="324.40" width="10.72" height="2.10" fill="#40ee22"/>
<rect x="72.88" y="324.40" width="10.72" height="2.10" fill="#b00a06"/>
<rect x="83.10" y="324.40" width="10.72" height="2.10" fill="#b00a06"/>
<rect x="72.88" y="326.00" width="10.72" height="3.50" fill="#b00a06"/>
<rect x="83.10" y="326.00" width="10.72" height="3.50" fill="#680000"/>
<rect x="62.65" y="329.00" width="10.72" height="4.10" fill="#0c3008"/>
<rect x="72.88" y="329.00" width="10.72" height="4.10" fill="#b00a06"/>
<rect x="83.10" y="329.00" width="10.72" height="4.10" fill="#680000"/>
<rect x="62.65" y="332.60" width="10.72" height="3.90" fill="#680000"/>
<rect x="72.88" y="332.60" width="10.72" height="3.90" fill="#b00a06"/>
<rect x="83.10" y="332.60" width="10.72" height="3.90" fill="#b00a06"/>
<rect x="72.88" y="336.00" width="10.72" height="5.50" fill="#f41408"/>
<rect x="83.10" y="336.00" width="10.72" height="5.50" fill="#b00a06"/>
<rect x="62.65" y="341.00" width="10.72" height="5.50" fill="#f41408"/>
<rect x="72.88" y="341.00" width="10.72" height="5.50" fill="#f41408"/>
<rect x="83.10" y="341.00" width="10.72" height="5.50" fill="#f41408"/>
<rect x="62.65" y="346.00" width="10.72" height="4.10" fill="#680000"/>
<rect x="72.88" y="346.00" width="10.72" height="4.10" fill="#680000"/>
<rect x="62.65" y="349.60" width="10.72" height="4.70" fill="#680000"/>
<rect x="72.88" y="349.60" width="10.72" height="4.70" fill="#b00a06"/>
<rect x="83.10" y="349.60" width="10.72" height="4.70" fill="#680000"/>
<rect x="72.88" y="353.80" width="10.72" height="2.70" fill="#680000"/>
<rect x="83.10" y="353.80" width="10.72" height="2.70" fill="#680000"/>
<rect x="62.65" y="356.00" width="10.72" height="3.70" fill="#0c3008"/>
<rect x="72.88" y="356.00" width="10.72" height="3.70" fill="#680000"/>
<rect x="83.10" y="356.00" width="10.72" height="3.70" fill="#f41408"/>
<rect x="72.88" y="364.20" width="10.72" height="2.80" fill="#680000"/>
<rect x="72.88" y="370.00" width="10.72" height="6.20" fill="#b00a06"/>
<rect x="83.10" y="375.70" width="10.72" height="3.40" fill="#0c3008"/>
<rect x="62.65" y="378.60" width="10.72" height="3.90" fill="#40ee22"/>
<rect x="72.88" y="378.60" width="10.72" height="3.90" fill="#0c3008"/>
<rect x="72.88" y="382.00" width="10.72" height="1.50" fill="#b00a06"/>
<rect x="62.65" y="383.00" width="10.72" height="2.80" fill="#0c3008"/>
<rect x="72.88" y="383.00" width="10.72" height="2.80" fill="#b00a06"/>
<rect x="72.88" y="385.30" width="10.72" height="3.40" fill="#f41408"/>
<rect x="72.88" y="388.20" width="10.72" height="5.70" fill="#1a0000"/>
<rect x="83.10" y="388.20" width="10.72" height="5.70" fill="#1e0818"/>
<rect x="83.10" y="393.40" width="10.72" height="2.80" fill="#23a01a"/>
<rect x="62.65" y="395.70" width="10.72" height="3.40" fill="#0c3008"/>
<rect x="83.10" y="395.70" width="10.72" height="3.40" fill="#40ee22"/>
<rect x="62.65" y="398.60" width="10.72" height="4.50" fill="#176414"/>
<rect x="72.88" y="398.60" width="10.72" height="4.50" fill="#176414"/>
<rect x="83.10" y="398.60" width="10.72" height="4.50" fill="#0c3008"/>
<rect x="72.88" y="402.60" width="10.72" height="3.40" fill="#b00a06"/>
<rect x="62.65" y="405.50" width="10.72" height="5.50" fill="#40ee22"/>
<rect x="72.88" y="405.50" width="10.72" height="5.50" fill="#680000"/>
<rect x="83.10" y="405.50" width="10.72" height="5.50" fill="#23a01a"/>
<rect x="93.32" y="74.50" width="10.72" height="8.00" fill="#40ee22"/>
<rect x="103.55" y="74.50" width="10.72" height="8.00" fill="#40ee22"/>
<rect x="113.77" y="74.50" width="10.72" height="8.00" fill="#40ee22"/>
<rect x="93.32" y="82.00" width="10.72" height="1.50" fill="#40ee22"/>
<rect x="103.55" y="82.00" width="10.72" height="1.50" fill="#23a01a"/>
<rect x="113.77" y="82.00" width="10.72" height="1.50" fill="#40ee22"/>
<rect x="93.32" y="83.00" width="10.72" height="12.30" fill="#40ee22"/>
<rect x="103.55" y="83.00" width="10.72" height="12.30" fill="#40ee22"/>
<rect x="113.77" y="83.00" width="10.72" height="12.30" fill="#40ee22"/>
<rect x="103.55" y="94.80" width="10.72" height="2.80" fill="#680000"/>
<rect x="93.32" y="97.10" width="10.72" height="3.90" fill="#0c3008"/>
<rect x="103.55" y="97.10" width="10.72" height="3.90" fill="#1a0000"/>
<rect x="113.77" y="97.10" width="10.72" height="3.90" fill="#0c3008"/>
<rect x="93.32" y="100.50" width="10.72" height="4.60" fill="#0c3008"/>
<rect x="93.32" y="104.60" width="10.72" height="3.40" fill="#1a0000"/>
<rect x="103.55" y="104.60" width="10.72" height="3.40" fill="#680000"/>
<rect x="103.55" y="107.50" width="10.72" height="3.90" fill="#f41408"/>
<rect x="113.77" y="107.50" width="10.72" height="3.90" fill="#680000"/>
<rect x="93.32" y="110.90" width="10.72" height="2.80" fill="#680000"/>
<rect x="93.32" y="113.20" width="10.72" height="4.00" fill="#40ee22"/>
<rect x="103.55" y="113.20" width="10.72" height="4.00" fill="#23a01a"/>
<rect x="113.77" y="113.20" width="10.72" height="4.00" fill="#40ee22"/>
<rect x="93.32" y="116.70" width="10.72" height="3.20" fill="#40ee22"/>
<rect x="103.55" y="116.70" width="10.72" height="3.20" fill="#40ee22"/>
<rect x="113.77" y="116.70" width="10.72" height="3.20" fill="#40ee22"/>
<rect x="103.55" y="119.40" width="10.72" height="2.60" fill="#0c3008"/>
<rect x="113.77" y="119.40" width="10.72" height="2.60" fill="#0c3008"/>
<rect x="93.32" y="125.20" width="10.72" height="1.90" fill="#23a01a"/>
<rect x="103.55" y="126.60" width="10.72" height="4.10" fill="#40ee22"/>
<rect x="103.55" y="130.20" width="10.72" height="2.00" fill="#23a01a"/>
<rect x="93.32" y="131.70" width="10.72" height="3.40" fill="#40ee22"/>
<rect x="103.55" y="131.70" width="10.72" height="3.40" fill="#40ee22"/>
<rect x="113.77" y="131.70" width="10.72" height="3.40" fill="#40ee22"/>
<rect x="93.32" y="134.60" width="10.72" height="1.90" fill="#40ee22"/>
<rect x="103.55" y="134.60" width="10.72" height="1.90" fill="#40ee22"/>
<rect x="103.55" y="136.00" width="10.72" height="3.00" fill="#40ee22"/>
<rect x="113.77" y="136.00" width="10.72" height="3.00" fill="#0c3008"/>
<rect x="103.55" y="138.50" width="10.72" height="2.40" fill="#23a01a"/>
<rect x="113.77" y="138.50" width="10.72" height="2.40" fill="#0c3008"/>
<rect x="93.32" y="140.40" width="10.72" height="2.70" fill="#0c3008"/>
<rect x="103.55" y="140.40" width="10.72" height="2.70" fill="#40ee22"/>
<rect x="103.55" y="144.00" width="10.72" height="4.90" fill="#40ee22"/>
<rect x="103.55" y="149.80" width="10.72" height="3.40" fill="#0c3008"/>
<rect x="113.77" y="149.80" width="10.72" height="3.40" fill="#40ee22"/>
<rect x="113.77" y="152.70" width="10.72" height="3.40" fill="#23a01a"/>
<rect x="93.32" y="155.60" width="10.72" height="3.40" fill="#1a0000"/>
<rect x="113.77" y="155.60" width="10.72" height="3.40" fill="#0c3008"/>
<rect x="93.32" y="158.50" width="10.72" height="3.40" fill="#0c3008"/>
<rect x="103.55" y="158.50" width="10.72" height="3.40" fill="#23a01a"/>
<rect x="93.32" y="161.40" width="10.72" height="3.40" fill="#1a0000"/>
<rect x="93.32" y="164.30" width="10.72" height="3.50" fill="#1a0000"/>
<rect x="103.55" y="164.30" width="10.72" height="3.50" fill="#23a01a"/>
<rect x="113.77" y="164.30" width="10.72" height="3.50" fill="#1a0000"/>
<rect x="93.32" y="167.30" width="10.72" height="2.60" fill="#b00a06"/>
<rect x="103.55" y="169.40" width="10.72" height="3.40" fill="#1a0000"/>
<rect x="103.55" y="172.30" width="10.72" height="3.20" fill="#23a01a"/>
<rect x="93.32" y="175.00" width="10.72" height="2.80" fill="#23a01a"/>
<rect x="93.32" y="177.80" width="10.72" height="2.70" fill="#456a18"/>
<rect x="103.55" y="177.80" width="10.72" height="2.70" fill="#0c3008"/>
<rect x="103.55" y="184.20" width="10.72" height="2.80" fill="#40ee22"/>
<rect x="93.32" y="186.50" width="10.72" height="2.20" fill="#176414"/>
<rect x="103.55" y="186.50" width="10.72" height="2.20" fill="#0c3008"/>
<rect x="113.77" y="186.50" width="10.72" height="2.20" fill="#176414"/>
<rect x="103.55" y="189.40" width="10.72" height="2.10" fill="#40ee22"/>
<rect x="93.32" y="192.30" width="10.72" height="2.20" fill="#0c3008"/>
<rect x="103.55" y="192.30" width="10.72" height="2.20" fill="#0c3008"/>
<rect x="103.55" y="194.00" width="10.72" height="2.80" fill="#0c3008"/>
<rect x="103.55" y="197.50" width="10.72" height="1.60" fill="#0c3008"/>
<rect x="93.32" y="213.60" width="10.72" height="1.70" fill="#1a0000"/>
<rect x="93.32" y="218.80" width="10.72" height="2.80" fill="#680000"/>
<rect x="113.77" y="218.80" width="10.72" height="2.80" fill="#1c281c"/>
<rect x="93.32" y="226.30" width="10.72" height="2.20" fill="#1a0000"/>
<rect x="113.77" y="226.30" width="10.72" height="2.20" fill="#680000"/>
<rect x="93.32" y="231.50" width="10.72" height="2.80" fill="#1a0000"/>
<rect x="103.55" y="236.00" width="10.72" height="1.70" fill="#0c3008"/>
<rect x="93.32" y="239.60" width="10.72" height="3.90" fill="#40ee22"/>
<rect x="103.55" y="239.60" width="10.72" height="3.90" fill="#40ee22"/>
<rect x="103.55" y="244.20" width="10.72" height="9.90" fill="#40ee22"/>
<rect x="93.32" y="255.80" width="10.72" height="2.00" fill="#456a18"/>
<rect x="93.32" y="257.30" width="10.72" height="7.70" fill="#1a0000"/>
<rect x="113.77" y="257.30" width="10.72" height="7.70" fill="#1a0000"/>
<rect x="93.32" y="264.50" width="10.72" height="5.60" fill="#b00a06"/>
<rect x="93.32" y="277.60" width="10.72" height="4.10" fill="#b00a06"/>
<rect x="103.55" y="277.60" width="10.72" height="4.10" fill="#680000"/>
<rect x="113.77" y="277.60" width="10.72" height="4.10" fill="#680000"/>
<rect x="93.32" y="281.20" width="10.72" height="4.10" fill="#f41408"/>
<rect x="103.55" y="281.20" width="10.72" height="4.10" fill="#b00a06"/>
<rect x="113.77" y="281.20" width="10.72" height="4.10" fill="#b00a06"/>
<rect x="93.32" y="284.80" width="10.72" height="3.40" fill="#680000"/>
<rect x="103.55" y="284.80" width="10.72" height="3.40" fill="#680000"/>
<rect x="93.32" y="287.70" width="10.72" height="3.40" fill="#b00a06"/>
<rect x="103.55" y="287.70" width="10.72" height="3.40" fill="#680000"/>
<rect x="113.77" y="287.70" width="10.72" height="3.40" fill="#b00a06"/>
<rect x="113.77" y="290.60" width="10.72" height="3.40" fill="#680000"/>
<rect x="93.32" y="293.50" width="10.72" height="4.90" fill="#f41408"/>
<rect x="103.55" y="293.50" width="10.72" height="4.90" fill="#b00a06"/>
<rect x="113.77" y="293.50" width="10.72" height="4.90" fill="#b00a06"/>
<rect x="93.32" y="300.00" width="10.72" height="4.20" fill="#b00a06"/>
<rect x="103.55" y="300.00" width="10.72" height="4.20" fill="#b00a06"/>
<rect x="113.77" y="300.00" width="10.72" height="4.20" fill="#680000"/>
<rect x="93.32" y="303.70" width="10.72" height="4.10" fill="#f41408"/>
<rect x="103.55" y="303.70" width="10.72" height="4.10" fill="#f41408"/>
<rect x="113.77" y="303.70" width="10.72" height="4.10" fill="#1a0000"/>
<rect x="93.32" y="307.30" width="10.72" height="2.60" fill="#456a18"/>
<rect x="103.55" y="307.30" width="10.72" height="2.60" fill="#456a18"/>
<rect x="113.77" y="307.30" width="10.72" height="2.60" fill="#176414"/>
<rect x="93.32" y="309.40" width="10.72" height="4.10" fill="#0c3008"/>
<rect x="103.55" y="309.40" width="10.72" height="4.10" fill="#0c3008"/>
<rect x="113.77" y="313.00" width="10.72" height="4.10" fill="#680000"/>
<rect x="93.32" y="317.30" width="10.72" height="3.40" fill="#40ee22"/>
<rect x="103.55" y="320.20" width="10.72" height="3.40" fill="#680000"/>
<rect x="93.32" y="323.10" width="10.72" height="2.70" fill="#0c3008"/>
<rect x="103.55" y="323.10" width="10.72" height="2.70" fill="#b00a06"/>
<rect x="103.55" y="325.30" width="10.72" height="2.70" fill="#b00a06"/>
<rect x="113.77" y="325.30" width="10.72" height="2.70" fill="#456a18"/>
<rect x="93.32" y="327.50" width="10.72" height="3.40" fill="#b00a06"/>
<rect x="103.55" y="327.50" width="10.72" height="3.40" fill="#b00a06"/>
<rect x="93.32" y="330.40" width="10.72" height="3.40" fill="#680000"/>
<rect x="103.55" y="330.40" width="10.72" height="3.40" fill="#f41408"/>
<rect x="113.77" y="330.40" width="10.72" height="3.40" fill="#680000"/>
<rect x="93.32" y="333.30" width="10.72" height="5.60" fill="#f41408"/>
<rect x="103.55" y="333.30" width="10.72" height="5.60" fill="#f41408"/>
<rect x="113.77" y="333.30" width="10.72" height="5.60" fill="#b00a06"/>
<rect x="93.32" y="338.40" width="10.72" height="4.80" fill="#b00a06"/>
<rect x="103.55" y="338.40" width="10.72" height="4.80" fill="#f41408"/>
<rect x="113.77" y="338.40" width="10.72" height="4.80" fill="#680000"/>
<rect x="93.32" y="342.70" width="10.72" height="4.10" fill="#f41408"/>
<rect x="103.55" y="342.70" width="10.72" height="4.10" fill="#f41408"/>
<rect x="113.77" y="342.70" width="10.72" height="4.10" fill="#b00a06"/>
<rect x="93.32" y="346.30" width="10.72" height="4.00" fill="#f41408"/>
<rect x="103.55" y="346.30" width="10.72" height="4.00" fill="#f41408"/>
<rect x="113.77" y="346.30" width="10.72" height="4.00" fill="#b00a06"/>
<rect x="93.32" y="349.80" width="10.72" height="2.70" fill="#b00a06"/>
<rect x="103.55" y="349.80" width="10.72" height="2.70" fill="#f41408"/>
<rect x="113.77" y="349.80" width="10.72" height="2.70" fill="#680000"/>
<rect x="93.32" y="352.00" width="10.72" height="8.50" fill="#f41408"/>
<rect x="103.55" y="352.00" width="10.72" height="8.50" fill="#f41408"/>
<rect x="113.77" y="352.00" width="10.72" height="8.50" fill="#b00a06"/>
<rect x="93.32" y="360.00" width="10.72" height="4.30" fill="#f41408"/>
<rect x="103.55" y="360.00" width="10.72" height="4.30" fill="#f41408"/>
<rect x="113.77" y="360.00" width="10.72" height="4.30" fill="#b00a06"/>
<rect x="93.32" y="363.80" width="10.72" height="3.10" fill="#b00a06"/>
<rect x="103.55" y="363.80" width="10.72" height="3.10" fill="#f41408"/>
<rect x="113.77" y="363.80" width="10.72" height="3.10" fill="#680000"/>
<rect x="93.32" y="366.40" width="10.72" height="4.40" fill="#b00a06"/>
<rect x="103.55" y="366.40" width="10.72" height="4.40" fill="#f41408"/>
<rect x="113.77" y="366.40" width="10.72" height="4.40" fill="#b00a06"/>
<rect x="93.32" y="370.30" width="10.72" height="5.60" fill="#f41408"/>
<rect x="103.55" y="370.30" width="10.72" height="5.60" fill="#f41408"/>
<rect x="113.77" y="370.30" width="10.72" height="5.60" fill="#b00a06"/>
<rect x="93.32" y="375.40" width="10.72" height="4.30" fill="#b00a06"/>
<rect x="103.55" y="375.40" width="10.72" height="4.30" fill="#f41408"/>
<rect x="113.77" y="375.40" width="10.72" height="4.30" fill="#680000"/>
<rect x="93.32" y="379.20" width="10.72" height="6.90" fill="#b00a06"/>
<rect x="103.55" y="379.20" width="10.72" height="6.90" fill="#f41408"/>
<rect x="113.77" y="379.20" width="10.72" height="6.90" fill="#b00a06"/>
<rect x="93.32" y="385.60" width="10.72" height="6.90" fill="#b00a06"/>
<rect x="103.55" y="385.60" width="10.72" height="6.90" fill="#f41408"/>
<rect x="113.77" y="385.60" width="10.72" height="6.90" fill="#680000"/>
<rect x="93.32" y="392.00" width="10.72" height="2.50" fill="#680000"/>
<rect x="103.55" y="392.00" width="10.72" height="2.50" fill="#680000"/>
<rect x="113.77" y="392.00" width="10.72" height="2.50" fill="#b00a06"/>
<rect x="93.32" y="394.00" width="10.72" height="5.00" fill="#f41408"/>
<rect x="103.55" y="394.00" width="10.72" height="5.00" fill="#f41408"/>
<rect x="113.77" y="394.00" width="10.72" height="5.00" fill="#b00a06"/>
<rect x="93.32" y="398.50" width="10.72" height="4.30" fill="#b00a06"/>
<rect x="103.55" y="398.50" width="10.72" height="4.30" fill="#f41408"/>
<rect x="113.77" y="398.50" width="10.72" height="4.30" fill="#680000"/>
<rect x="93.32" y="402.30" width="10.72" height="8.70" fill="#1a0000"/>
<rect x="103.55" y="402.30" width="10.72" height="8.70" fill="#f41408"/>
<rect x="113.77" y="402.30" width="10.72" height="8.70" fill="#1a0000"/>
<rect x="11.53" y="77.80" width="10.72" height="1.70" fill="#1c281c"/>
<rect x="1.30" y="83.20" width="20.95" height="1.70" fill="#1c281c"/>
<rect x="11.53" y="88.40" width="10.72" height="1.70" fill="#1c281c"/>
<rect x="21.75" y="94.70" width="10.72" height="1.70" fill="#364036"/>
<rect x="21.75" y="99.90" width="10.72" height="1.70" fill="#1c281c"/>
<rect x="1.30" y="104.00" width="10.72" height="1.70" fill="#1c281c"/>
<rect x="11.53" y="113.20" width="20.95" height="1.70" fill="#0c3008"/>
<rect x="11.53" y="118.90" width="20.95" height="1.70" fill="#1c281c"/>
<rect x="11.53" y="120.40" width="10.72" height="1.70" fill="#1a0000"/>
<rect x="11.53" y="123.00" width="10.72" height="1.70" fill="#1a0000"/>
<rect x="1.30" y="124.70" width="10.72" height="1.70" fill="#1c281c"/>
<rect x="11.53" y="128.80" width="10.72" height="1.70" fill="#1c281c"/>
<rect x="21.75" y="140.90" width="10.72" height="1.70" fill="#1c281c"/>
<rect x="11.53" y="153.60" width="20.95" height="1.70" fill="#1c281c"/>
<rect x="1.30" y="156.30" width="20.95" height="1.70" fill="#1c281c"/>
<rect x="21.75" y="159.40" width="10.72" height="1.70" fill="#1c281c"/>
<rect x="1.30" y="165.10" width="31.17" height="1.70" fill="#1c281c"/>
<rect x="11.53" y="168.00" width="20.95" height="1.70" fill="#1c281c"/>
<rect x="11.53" y="171.90" width="10.72" height="1.70" fill="#1c281c"/>
<rect x="21.75" y="181.20" width="10.72" height="1.70" fill="#1c281c"/>
<rect x="11.53" y="184.60" width="20.95" height="1.70" fill="#1c281c"/>
<rect x="21.75" y="189.90" width="10.72" height="1.70" fill="#1c281c"/>
<rect x="1.30" y="201.40" width="10.72" height="1.70" fill="#0c3008"/>
<rect x="11.53" y="201.40" width="10.72" height="1.70" fill="#1c281c"/>
<rect x="11.53" y="206.70" width="10.72" height="1.70" fill="#1c281c"/>
<rect x="11.53" y="209.00" width="10.72" height="1.70" fill="#1c281c"/>
<rect x="21.75" y="213.00" width="10.72" height="1.70" fill="#1c281c"/>
<rect x="21.75" y="217.10" width="10.72" height="1.70" fill="#1c281c"/>
<rect x="21.75" y="218.80" width="10.72" height="1.70" fill="#1c281c"/>
<rect x="11.53" y="221.30" width="20.95" height="1.70" fill="#364036"/>
<rect x="1.30" y="225.10" width="10.72" height="1.70" fill="#0c3008"/>
<rect x="21.75" y="225.10" width="10.72" height="1.70" fill="#1c281c"/>
<rect x="11.53" y="232.00" width="20.95" height="1.70" fill="#1c281c"/>
<rect x="11.53" y="238.40" width="10.72" height="1.70" fill="#176414"/>
<rect x="11.53" y="248.80" width="10.72" height="1.70" fill="#1c281c"/>
<rect x="11.53" y="252.20" width="10.72" height="1.70" fill="#1c281c"/>
<rect x="21.75" y="255.10" width="10.72" height="1.70" fill="#1c281c"/>
<rect x="11.53" y="256.90" width="10.72" height="1.70" fill="#1c281c"/>
<rect x="1.30" y="259.70" width="20.95" height="1.70" fill="#1c281c"/>
<rect x="21.75" y="266.10" width="10.72" height="1.70" fill="#1c281c"/>
<rect x="1.30" y="270.70" width="10.72" height="1.70" fill="#1c281c"/>
<rect x="11.53" y="270.70" width="10.72" height="1.70" fill="#0c3008"/>
<rect x="21.75" y="271.90" width="10.72" height="1.70" fill="#1c281c"/>
<rect x="21.75" y="274.20" width="10.72" height="1.70" fill="#1c281c"/>
<rect x="1.30" y="277.60" width="20.95" height="1.70" fill="#1c281c"/>
<rect x="21.75" y="278.20" width="10.72" height="1.70" fill="#1c281c"/>
<rect x="11.53" y="284.00" width="10.72" height="1.70" fill="#0c3008"/>
<rect x="11.53" y="288.00" width="10.72" height="1.70" fill="#1c281c"/>
<rect x="21.75" y="289.20" width="10.72" height="1.70" fill="#1c281c"/>
<rect x="1.30" y="293.80" width="20.95" height="1.70" fill="#1c281c"/>
<rect x="11.53" y="294.90" width="20.95" height="1.70" fill="#364036"/>
<rect x="11.53" y="302.40" width="10.72" height="1.70" fill="#1c281c"/>
<rect x="21.75" y="302.40" width="10.72" height="1.70" fill="#364036"/>
<rect x="1.30" y="305.90" width="10.72" height="1.70" fill="#1c281c"/>
<rect x="11.53" y="308.20" width="20.95" height="1.70" fill="#364036"/>
<rect x="1.30" y="312.80" width="20.95" height="1.70" fill="#1c281c"/>
<rect x="21.75" y="316.30" width="10.72" height="1.70" fill="#1c281c"/>
<rect x="11.53" y="318.60" width="10.72" height="1.70" fill="#1c281c"/>
<rect x="21.75" y="322.00" width="10.72" height="1.70" fill="#176414"/>
<rect x="1.30" y="327.20" width="20.95" height="1.70" fill="#1c281c"/>
<rect x="21.75" y="332.40" width="10.72" height="1.70" fill="#0c3008"/>
<rect x="21.75" y="335.90" width="10.72" height="1.70" fill="#1c281c"/>
<rect x="1.30" y="346.30" width="10.72" height="1.70" fill="#1c281c"/>
<rect x="21.75" y="347.40" width="10.72" height="1.70" fill="#1c281c"/>
<rect x="11.53" y="351.40" width="10.72" height="1.70" fill="#1c281c"/>
<rect x="11.53" y="354.90" width="20.95" height="1.70" fill="#1c281c"/>
<rect x="21.75" y="358.40" width="10.72" height="1.70" fill="#1c281c"/>
<rect x="1.30" y="361.30" width="10.72" height="1.70" fill="#1c281c"/>
<rect x="11.53" y="364.20" width="20.95" height="1.70" fill="#364036"/>
<rect x="1.30" y="366.40" width="10.72" height="1.70" fill="#1c281c"/>
<rect x="11.53" y="369.40" width="10.72" height="1.70" fill="#364036"/>
<rect x="11.53" y="374.60" width="10.72" height="1.70" fill="#1c281c"/>
<rect x="21.75" y="378.00" width="10.72" height="1.70" fill="#1c281c"/>
<rect x="1.30" y="384.40" width="10.72" height="1.70" fill="#1c281c"/>
<rect x="11.53" y="386.70" width="10.72" height="1.70" fill="#1c281c"/>
<rect x="11.53" y="388.20" width="10.72" height="1.70" fill="#364036"/>
<rect x="21.75" y="389.90" width="10.72" height="1.70" fill="#1c281c"/>
<rect x="11.53" y="395.10" width="20.95" height="1.70" fill="#364036"/>
<rect x="21.75" y="397.40" width="10.72" height="1.70" fill="#1c281c"/>
<rect x="11.53" y="402.00" width="10.72" height="1.70" fill="#1c281c"/>
</svg>

<div class="bar" style="left:143.9px;top:86.6px;width:4.8px;height:21.7px;background:#55ee15"></div>
<div class="bar" style="left:143.8px;top:112.9px;width:5px;height:154.8px;background:#ff2a14"></div>
<div class="bar" style="left:143.7px;top:344.8px;width:5.2px;height:51.1px;background:#2020f0"></div>
<div class="lab" style="left:155px;top:83.5px">GC-Th cells<br>Down-regulated</div>
<div class="lab" style="left:153.4px;top:185.9px">GC-Th cells<br>Up-regulated</div>
<div class="lab" style="left:158.8px;top:354.5px">CCR7-negative cells<br>Up-regulated</div>

<div class="vl lb" style="left:318.00px;top:82.50px;font-size:13px">naive&#8722;1</div>
<div class="vl lb" style="left:331.15px;top:82.50px;font-size:13px">naive&#8722;2</div>
<div class="vl lb" style="left:344.30px;top:82.50px;font-size:13px">naive&#8722;3</div>
<div class="vl lb" style="left:357.45px;top:82.50px;font-size:13px">CXCR5&#8722;1</div>
<div class="vl lb" style="left:370.60px;top:82.50px;font-size:13px">CXCR5&#8722;2</div>
<div class="vl lb" style="left:383.75px;top:82.50px;font-size:13px">CXCR5&#8722;3</div>
<div class="vl lb" style="left:396.90px;top:82.50px;font-size:13px">GC&#8722;Th&#8722;1</div>
<div class="vl lb" style="left:410.05px;top:82.50px;font-size:13px">GC&#8722;Th&#8722;2</div>
<div class="vl lb" style="left:423.20px;top:82.50px;font-size:13px">GC&#8722;Th&#8722;3</div>
<div class="vl lb" style="left:436.35px;top:82.50px;font-size:13px">CCR7N&#8722;1</div>
<div class="vl lb" style="left:449.50px;top:82.50px;font-size:13px">CCR7N&#8722;2</div>
<div class="vl lb" style="left:462.65px;top:82.50px;font-size:13px">CCR7N&#8722;3</div>
<svg style="position:absolute;left:0;top:0" width="520" height="413" viewBox="0 0 520 413">
<rect x="316" y="84.8" width="158" height="39.3" fill="#000"/>
<rect x="329.2" y="84.8" width="26" height="13" fill="#081e06"/>
<rect x="355.3" y="85.3" width="79.2" height="12.2" fill="#ff2a04" stroke="#f0b040" stroke-width="1.2"/>
<rect x="395.3" y="98.4" width="78.7" height="12.6" fill="#44f41c"/>
<rect x="408.5" y="99" width="13" height="11.5" fill="#083010"/>
<rect x="395.3" y="98.6" width="39.2" height="12.2" fill="none" stroke="#e0c040" stroke-width="1.2"/>
<rect x="395.3" y="111.4" width="39.2" height="12" fill="#a40404" stroke="#e0a040" stroke-width="1.2"/>
<text x="398.4" y="95" font-family="Liberation Sans" font-size="13" fill="#ffb070" text-anchor="middle">a</text>
<text x="410" y="108.5" font-family="Liberation Sans" font-size="13" fill="#c8c848" text-anchor="middle">b</text>
<text x="414.6" y="121.5" font-family="Liberation Sans" font-size="13" fill="#ffb070" text-anchor="middle">c</text>
<defs><linearGradient id="lg" x1="0" x2="1" y1="0" y2="0">
<stop offset="0" stop-color="#44ee22"/><stop offset="0.18" stop-color="#33dd11"/><stop offset="0.4" stop-color="#000"/>
<stop offset="0.6" stop-color="#000"/><stop offset="0.82" stop-color="#aa0000"/><stop offset="1" stop-color="#ff1010"/></linearGradient></defs>
<rect x="320.2" y="145" width="154" height="5" fill="url(#lg)"/>
<g stroke="#4a4a4a" stroke-width="1.2" stroke-linecap="square" fill="none" transform="translate(0.2,0.3)">
<line x1="306.7" y1="303.5" x2="306.7" y2="362.9"/>
<line x1="317.8" y1="303.5" x2="317.8" y2="362.9"/>
<line x1="306.7" y1="303.5" x2="317.8" y2="303.5"/>
<line x1="312.3" y1="272.3" x2="312.3" y2="303.5"/>
<line x1="328.7" y1="272.3" x2="328.7" y2="362.9"/>
<line x1="312.3" y1="272.3" x2="328.7" y2="272.3"/>
<line x1="320.4" y1="241.8" x2="320.4" y2="272.3"/>
<line x1="320.4" y1="241.8" x2="374.8" y2="241.8"/>
<line x1="374.8" y1="241.8" x2="374.8" y2="288.3"/>
<line x1="347.7" y1="288.3" x2="401.9" y2="288.3"/>
<line x1="347.7" y1="288.3" x2="347.7" y2="351.2"/>
<line x1="401.9" y1="288.3" x2="401.9" y2="328.7"/>
<line x1="339.4" y1="351.2" x2="355.6" y2="351.2"/>
<line x1="339.4" y1="351.2" x2="339.4" y2="362.9"/>
<line x1="355.6" y1="351.2" x2="355.6" y2="354.8"/>
<line x1="350.4" y1="354.8" x2="361.3" y2="354.8"/>
<line x1="350.4" y1="354.8" x2="350.4" y2="362.9"/>
<line x1="361.3" y1="354.8" x2="361.3" y2="362.9"/>
<line x1="385.2" y1="328.7" x2="418.2" y2="328.7"/>
<line x1="385.2" y1="328.7" x2="385.2" y2="330.8"/>
<line x1="372.4" y1="330.8" x2="393.9" y2="330.8"/>
<line x1="372.4" y1="330.8" x2="372.4" y2="362.9"/>
<line x1="383.2" y1="330.8" x2="383.2" y2="362.9"/>
<line x1="393.9" y1="330.8" x2="393.9" y2="362.9"/>
<line x1="418.2" y1="328.7" x2="418.2" y2="339.9"/>
<line x1="404.7" y1="339.9" x2="426.6" y2="339.9"/>
<line x1="404.7" y1="339.9" x2="404.7" y2="362.9"/>
<line x1="415.9" y1="339.9" x2="415.9" y2="362.9"/>
<line x1="426.6" y1="339.9" x2="426.6" y2="362.9"/>
</g>
</svg>
<div class="rl" style="left:480px;top:86.7px">CXCR5</div>
<div class="rl" style="left:480px;top:99.7px">CCR7</div>
<div class="rl" style="left:480px;top:112.7px">beta</div>

<div class="tick" style="left:302px;top:129.1px;font-weight:bold;color:#3ccc28">6.25 (Down)</div>
<div class="tick" style="left:390.5px;top:130.2px;font-weight:bold">1.0</div>
<div class="tick" style="left:452.5px;top:129.1px;font-weight:bold;color:#cc2a22">6.25 (UP)</div>
<div class="tick" style="left:304.5px;top:158.1px">-2.5</div>
<div class="tick" style="left:339px;top:158.1px">-1.25</div>
<div class="tick" style="left:396px;top:158.1px">0</div>
<div class="tick" style="left:425px;top:158.1px">1.25</div>
<div class="tick" style="left:467.5px;top:158.1px">2.5</div>
<div class="tick" style="left:365.5px;top:174px">(log base 2)</div>
<div class="tick" style="left:377.5px;top:271px;font-size:12.5px"><i>r</i>=0.05</div>
<div class="tick" style="left:403.5px;top:312.5px;font-size:12.5px"><i>r</i>=0.51</div>

<div class="vl lc" style="left:303.10px;top:412.20px;font-size:11px">naive&#8722;1</div>
<div class="vl lc" style="left:314.20px;top:412.20px;font-size:11px">naive&#8722;2</div>
<div class="vl lc" style="left:325.10px;top:412.20px;font-size:11px">naive&#8722;3</div>
<div class="vl lc" style="left:335.80px;top:412.20px;font-size:11px">GC&#8722;Th&#8722;1</div>
<div class="vl lc" style="left:346.80px;top:412.20px;font-size:11px">GC&#8722;Th&#8722;2</div>
<div class="vl lc" style="left:357.70px;top:412.20px;font-size:11px">GC&#8722;Th&#8722;3</div>
<div class="vl lc" style="left:368.80px;top:412.20px;font-size:11px">CXCR5&#8722;1</div>
<div class="vl lc" style="left:379.60px;top:412.20px;font-size:11px">CXCR5&#8722;2</div>
<div class="vl lc" style="left:390.30px;top:412.20px;font-size:11px">CXCR5&#8722;3</div>
<div class="vl lc" style="left:401.10px;top:412.20px;font-size:11px">CCR7N&#8722;1</div>
<div class="vl lc" style="left:412.30px;top:412.20px;font-size:11px">CCR7N&#8722;2</div>
<div class="vl lc" style="left:423.00px;top:412.20px;font-size:11px">CCR7N&#8722;3</div>
</body></html>
